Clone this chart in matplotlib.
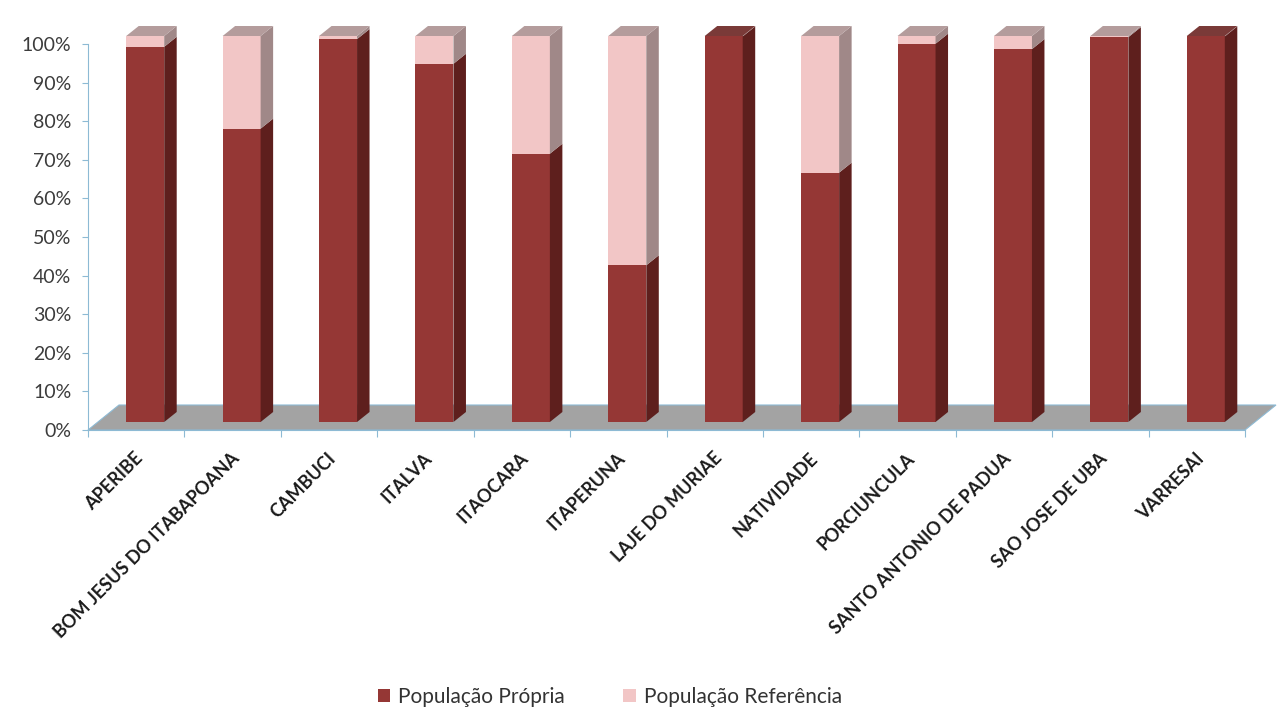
import numpy as np
import matplotlib.pyplot as plt
from matplotlib.patches import Polygon

# data (percent)
municipios = ['APERIBE', 'BOM JESUS DO ITABAPOANA', 'CAMBUCI', 'ITALVA', 'ITAOCARA',
              'ITAPERUNA', 'LAJE DO MURIAE', 'NATIVIDADE', 'PORCIUNCULA',
              'SANTO ANTONIO DE PADUA', 'SAO JOSE DE UBA', 'VARRESAI']
pop_propria = [97.2, 76.0, 99.2, 92.8, 69.5, 40.6, 99.9, 64.6, 98.0, 96.6, 99.7, 99.9]
pop_referencia = [2.8, 24.0, 0.8, 7.2, 30.5, 59.4, 0.1, 35.4, 2.0, 3.4, 0.3, 0.1]

c_front = '#953735'
c_side = '#5e1f1d'
c_ref = '#f2c6c6'
c_ref_side = '#a08888'
c_top_ref = '#b49c9c'
c_top_dark = '#7a3a38'
c_floor = '#a3a3a3'
c_axis = '#8dbad4'

fig = plt.figure(figsize=(12.86, 7.13), dpi=100)
W, H = 1286., 713.
ax = fig.add_axes([88/W, (H-430)/H, (1245-88)/W, (430-44)/H])
ax.set_xlim(-0.5, 11.5)
ax.set_ylim(0, 100)

px_x = (1245-88)/12.   # pixels per category
px_y = (430-44)/100.   # pixels per percent

# oblique offsets (3d look)
ox, oy = 9/px_x, 8/px_y            # bar front relative to floor front
ddx, ddy = 12.5/px_x, 10/px_y      # bar depth
fdx, fdy = 31/px_x, 25/px_y        # floor depth
w = 38/px_x

# floor
floor = Polygon([(-0.5, 0), (11.5, 0), (11.5+fdx, fdy), (-0.5+fdx, fdy)],
                closed=True, facecolor=c_floor, edgecolor=c_axis, lw=0.8,
                clip_on=False, zorder=1)
ax.add_patch(floor)

x = np.arange(len(municipios))
xb = x + ox
b1 = ax.bar(xb, pop_propria, width=w, bottom=oy, color=c_front, zorder=3,
            label='População Própria')
b2 = ax.bar(xb, pop_referencia, width=w, bottom=oy+np.array(pop_propria), color=c_ref,
            zorder=3, label='População Referência')
for r in list(b1) + list(b2):
    r.set_clip_on(False)

for i in range(len(municipios)):
    xr = xb[i] + w/2
    xl = xb[i] - w/2
    segs = [(0, pop_propria[i], c_side),
            (pop_propria[i], pop_propria[i]+pop_referencia[i], c_ref_side)]
    for b, t, c in segs:
        if t - b <= 0:
            continue
        ax.add_patch(Polygon([(xr, oy+b), (xr+ddx, oy+b+ddy), (xr+ddx, oy+t+ddy),
                              (xr, oy+t)], closed=True, facecolor=c, edgecolor='none',
                             clip_on=False, zorder=3))
    top = oy + pop_propria[i] + pop_referencia[i]
    ctop = c_top_ref if pop_referencia[i] >= 0.2 else c_top_dark
    ax.add_patch(Polygon([(xl, top), (xr, top), (xr+ddx, top+ddy), (xl+ddx, top+ddy)],
                         closed=True, facecolor=ctop, edgecolor='none',
                         clip_on=False, zorder=3))

# axes styling
for s in ['top', 'right']:
    ax.spines[s].set_visible(False)
ax.spines['left'].set_color(c_axis)
ax.spines['bottom'].set_color(c_axis)
ax.spines['left'].set_zorder(5)

ax.set_yticks(np.arange(0, 101, 10))
ax.set_yticklabels([f'{v}%' for v in range(0, 101, 10)], fontsize=14,
                   color='#3c3c3c', family='Lato')
ax.tick_params(axis='y', length=4, color=c_axis, pad=8)

ax.set_xticks(np.arange(-0.5, 12, 1))
ax.set_xticklabels([])
ax.tick_params(axis='x', which='major', length=5, color=c_axis, direction='out')
ax.set_xticks(x - 0.02, minor=True)
ax.set_xticklabels(municipios, minor=True, rotation=45, ha='right',
                   rotation_mode='anchor', fontsize=13, fontweight='bold',
                   family='Lato', color='#1a1a1a')
ax.tick_params(axis='x', which='minor', length=0, pad=14)

leg = fig.legend(loc='center', bbox_to_anchor=(610/W, 1-697/H), ncol=2, frameon=False,
                 prop={'family': 'Lato', 'size': 15}, handlelength=0.6,
                 handleheight=0.6, columnspacing=2.8, handletextpad=0.4)
for t in leg.get_texts():
    t.set_color('#333333')

fig.savefig('out.png', dpi=100)
